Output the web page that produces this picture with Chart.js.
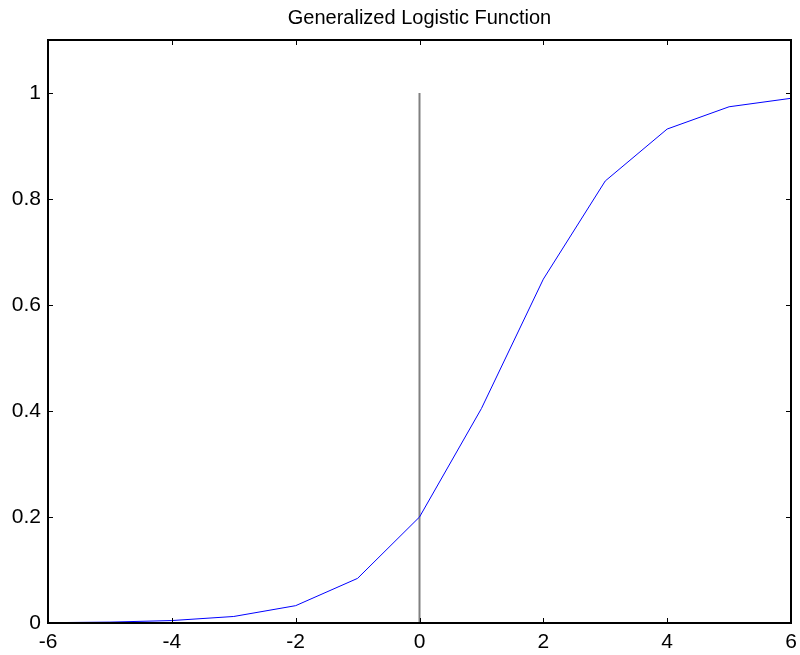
<!DOCTYPE html>
<html>
<head>
<meta charset="utf-8">
<script src="https://cdn.jsdelivr.net/npm/chart.js@4/dist/chart.umd.min.js"></script>
<style>
  html, body { margin: 0; padding: 0; background: #fff; }
  #wrap { width: 800px; height: 655px; }
</style>
</head>
<body>
<div id="wrap"><canvas id="logistic" width="800" height="655"></canvas></div>
<script>
// sampled curve
const xValues = [-6, -5, -4, -3, -2, -1, 0, 1, 2, 3, 4, 5, 6];
const yValues = [0.0006, 0.0017, 0.0046, 0.0123, 0.0327, 0.0842, 0.2, 0.4046, 0.6488, 0.834, 0.932, 0.974, 0.990];

// vertical marker at x = 0
const markerX = [0, 0];
const markerY = [0, 1];

// axis ticks
const xTicks = [-6, -4, -2, 0, 2, 4, 6];
const yTicks = [0, 0.2, 0.4, 0.6, 0.8, 1];

const titleText = 'Generalized Logistic Function';
const fontFamily = '"Liberation Sans", Arial, Helvetica, sans-serif';

function toPoints(xs, ys) {
    return xs.map((x, i) => ({ x: x, y: ys[i] }));
}

// inward tick marks on all four sides, plus the box and title
const matlabFrame = {
    id: 'matlabFrame',
    afterDraw(chart) {
        const ctx = chart.ctx;
        const a = chart.chartArea;
        const xs = chart.scales.x;
        const ys = chart.scales.y;
        const len = 5;
        ctx.save();
        ctx.strokeStyle = '#000';
        ctx.lineWidth = 1;
        ctx.beginPath();
        xTicks.forEach(v => {
            const px = Math.round(xs.getPixelForValue(v)) + 0.5;
            ctx.moveTo(px, a.bottom);
            ctx.lineTo(px, a.bottom - len);
            ctx.moveTo(px, a.top);
            ctx.lineTo(px, a.top + len);
        });
        yTicks.forEach(v => {
            const py = Math.round(ys.getPixelForValue(v)) + 0.5;
            ctx.moveTo(a.left, py);
            ctx.lineTo(a.left + len, py);
            ctx.moveTo(a.right, py);
            ctx.lineTo(a.right - len, py);
        });
        ctx.stroke();
        ctx.lineWidth = 2;
        ctx.strokeRect(a.left, a.top, a.right - a.left, a.bottom - a.top);

        ctx.fillStyle = '#000';
        ctx.font = '20px ' + fontFamily;
        ctx.textAlign = 'center';
        ctx.textBaseline = 'middle';
        ctx.fillText(titleText, (a.left + a.right) / 2, 18);
        ctx.restore();
    }
};

new Chart(document.getElementById('logistic'), {
    type: 'scatter',
    data: {
        datasets: [
            {
                data: toPoints(markerX, markerY),
                showLine: true,
                borderColor: '#808080',
                borderWidth: 2,
                pointRadius: 0,
                order: 2
            },
            {
                data: toPoints(xValues, yValues),
                showLine: true,
                borderColor: '#0000ff',
                borderWidth: 1,
                pointRadius: 0,
                tension: 0,
                order: 1
            }
        ]
    },
    options: {
        responsive: false,
        animation: false,
        layout: { padding: { top: 40, right: 9, left: 0, bottom: 0 } },
        plugins: {
            legend: { display: false },
            tooltip: { enabled: false },
            title: { display: false }
        },
        scales: {
            x: {
                type: 'linear',
                min: -6,
                max: 6,
                afterBuildTicks: s => { s.ticks = xTicks.map(v => ({ value: v })); },
                afterFit: s => { s.height = 32; s.paddingLeft = 0; s.paddingRight = 0; },
                grid: { display: false, drawTicks: false },
                border: { display: false },
                ticks: {
                    color: '#000',
                    padding: 7,
                    maxRotation: 0,
                    autoSkip: false,
                    font: { family: fontFamily, size: 21 },
                    callback: v => String(v)
                }
            },
            y: {
                type: 'linear',
                min: 0,
                max: 1.1,
                afterBuildTicks: s => { s.ticks = yTicks.map(v => ({ value: v })); },
                afterFit: s => { s.width = 48; s.paddingTop = 0; s.paddingBottom = 0; },
                grid: { display: false, drawTicks: false },
                border: { display: false },
                ticks: {
                    color: '#000',
                    padding: 7,
                    autoSkip: false,
                    font: { family: fontFamily, size: 21 },
                    callback: v => String(+v.toFixed(2))
                }
            }
        }
    },
    plugins: [matlabFrame]
});
</script>
</body>
</html>
